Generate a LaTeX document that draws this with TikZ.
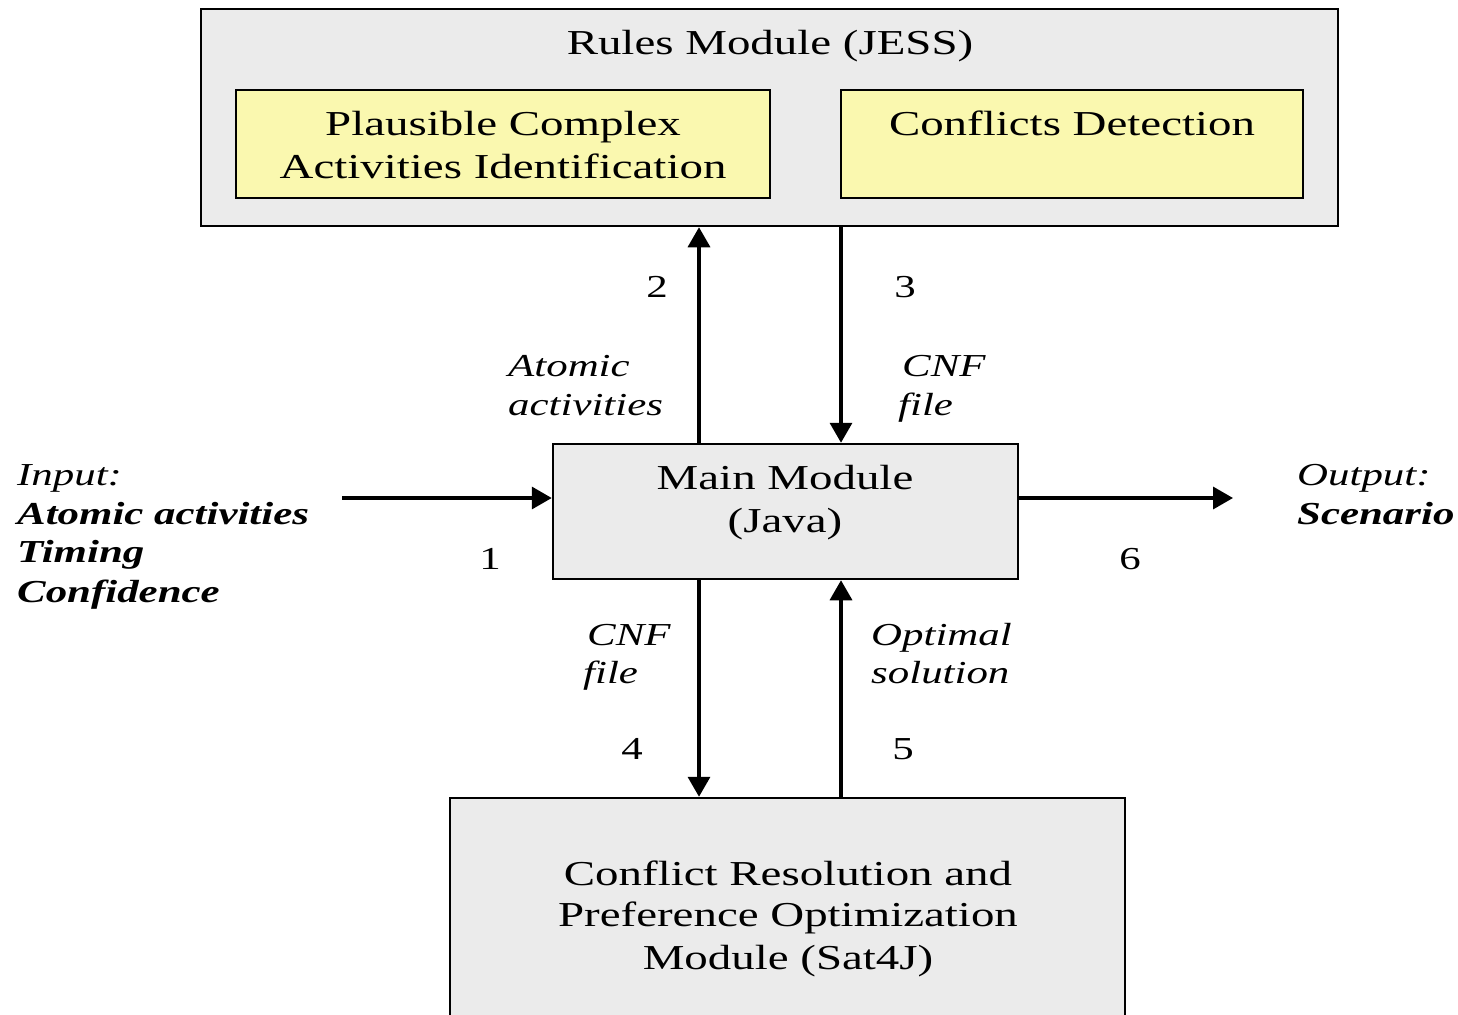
\documentclass[tikz,border=0pt]{standalone}
\usepackage{fontspec}
\setmainfont{Liberation Serif}[FakeStretch=1.34]
\usetikzlibrary{arrows.meta}
\definecolor{panelgray}{RGB}{235,235,235}
\definecolor{paleyellow}{RGB}{250,248,175}

\begin{document}
\begin{tikzpicture}[x=1pt,y=-1pt,
  box/.style={draw=black,line width=2.5pt,fill=panelgray,inner sep=0pt},
  ybox/.style={draw=black,line width=2.5pt,fill=paleyellow,inner sep=0pt},
  big/.style={font=\fontsize{35}{44}\selectfont,inner sep=0pt,anchor=base,yshift=-1.5pt},
  lbl/.style={font=\fontsize{32}{39}\selectfont\itshape,inner sep=0pt,anchor=base west,yshift=-1.5pt},
  blbl/.style={font=\fontsize{32}{39}\selectfont\bfseries\itshape,inner sep=0pt,anchor=base west,yshift=-1.5pt},
  num/.style={font=\fontsize{32}{39}\selectfont,inner sep=0pt,anchor=base,yshift=-1.5pt},
  flow/.style={line width=3.5pt,-{Triangle[length=20pt,width=22pt]}},
]
\useasboundingbox (0,0) rectangle (1458,1014);
\clip (0,0) rectangle (1458,1014);

% module boxes
\node[box,minimum width=1137pt,minimum height=217pt] (rules) at (769.5,117.5) {};
\node[ybox,minimum width=534pt,minimum height=108pt] (pcai) at (503,144) {};
\node[ybox,minimum width=462pt,minimum height=108pt] (cd) at (1072,144) {};
\node[box,minimum width=465pt,minimum height=135pt] (main) at (785.5,511.5) {};
\node[box,minimum width=675pt,minimum height=242pt] (solver) at (787.5,919) {};

% box texts
\node[big] (rulestitle) at (770,53) {Rules Module (JESS)};
\node[big] (pcaiA) at (503,134) {Plausible Complex};
\node[big] (pcaiB) at (503,177) {Activities Identification};
\node[big] (cdtext) at (1072,134) {Conflicts Detection};
\node[big] (mainA) at (785,488) {Main Module};
\node[big] (mainB) at (785,531) {(Java)};
\node[big] (solverA) at (788,884) {Conflict Resolution and};
\node[big] (solverB) at (788,925) {Preference Optimization};
\node[big] (solverC) at (788,968) {Module (Sat4J)};

% connector columns and free ends
\coordinate (colL) at (699,0);
\coordinate (colR) at (841,0);
\coordinate (inStart) at (342,498);
\coordinate (outEnd) at (1233,498);

% connectors
\draw[flow] (colL |- main.north) -- (colL |- rules.south);
\draw[flow] (colR |- rules.south) -- (colR |- main.north);
\draw[flow] (colL |- main.south) -- (colL |- solver.north);
\draw[flow] (colR |- solver.north) -- (colR |- main.south);
\draw[flow] (inStart) -- (main.west |- inStart);
\draw[flow] (main.east |- outEnd) -- (outEnd);

% step numbers
\node[num] (n1) at (490,568) {1};
\node[num] (n2) at (657,296) {2};
\node[num] (n3) at (905,296) {3};
\node[num] (n4) at (632,758) {4};
\node[num] (n5) at (903,758) {5};
\node[num] (n6) at (1130,568) {6};

% connector labels
\node[lbl] (l2a) at (508,375) {Atomic};
\node[lbl] (l2b) at (508,414) {activities};
\node[lbl] (l3a) at (902,375) {CNF};
\node[lbl] (l3b) at (898,414) {file};
\node[lbl] (l4a) at (587,644) {CNF};
\node[lbl] (l4b) at (583,682) {file};
\node[lbl] (l5a) at (871,644) {Optimal};
\node[lbl] (l5b) at (871,682) {solution};

% input and output
\node[lbl] (inA) at (17,484) {Input:};
\node[blbl] (inB) at (17,523) {Atomic activities};
\node[blbl] (inC) at (17,561) {Timing};
\node[blbl] (inD) at (17,601) {Confidence};
\node[lbl] (outA) at (1297,484) {Output:};
\node[blbl] (outB) at (1297,523) {Scenario};
\end{tikzpicture}
\end{document}
